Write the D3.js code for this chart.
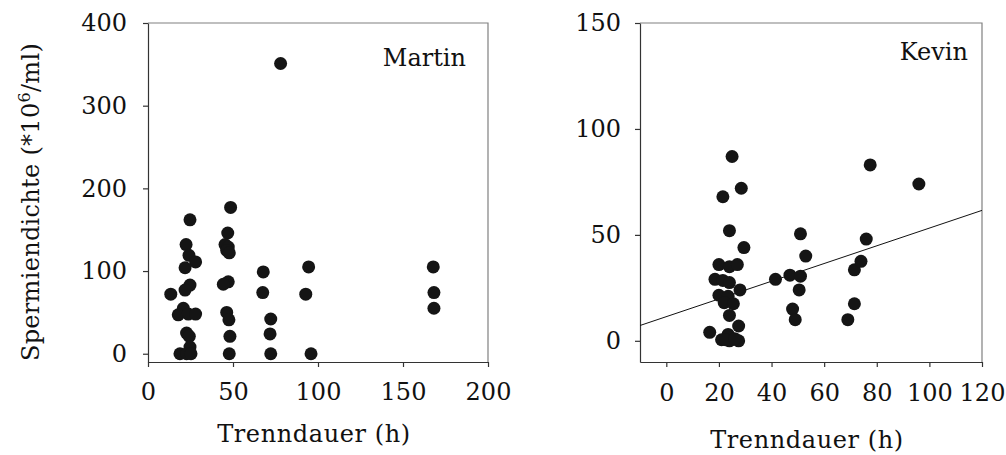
<!DOCTYPE html>
<html>
<head>
<meta charset="utf-8">
<script src="https://cdn.jsdelivr.net/npm/d3@7"></script>
<style>
  html, body { margin: 0; padding: 0; background: #fff; }
  svg { display: block; }
  text { font-family: "DejaVu Serif", serif; fill: #111; }
</style>
</head>
<body>
<svg id="chart" width="1006" height="455"></svg>
<script>
// Martin: separation time (h) and sperm density (*10^6/ml)
const martinHours = [
  78, 48.6, 24.7, 46.9, 22.4, 45.3, 47.2, 46.3, 47.8, 24.1, 28, 21.8,
  24.7, 21.8, 13.4, 47.2, 44.3, 20.8, 17.8, 23.7, 28, 46.3, 47.6,
  22.7, 24.3, 24.7, 48.2, 18.8, 22.7, 25.3, 47.8,
  67.8, 67.5, 72.2, 71.8, 72.2, 94.5, 92.8, 95.9, 167.8, 168.2, 168.2
];
const martinDensity = [
  351, 177, 162, 146, 132, 132, 129, 125, 122, 119, 111, 104,
  83, 77, 72, 87, 84, 55, 47, 48, 48, 50, 41,
  25, 21, 8, 21, 0, 0, 0, 0,
  99, 74, 42, 24, 0, 105, 72, 0, 105, 74, 55
];

// Kevin: separation time (h) and sperm density (*10^6/ml)
const kevinHours = [
  25, 28.5, 21.5, 24, 29.5, 20, 24, 27, 18.5, 21.5, 24, 28, 20, 23.5,
  22, 25.5, 24, 27.5, 16.5, 21, 24, 27.5, 23.5, 22.5, 26,
  41.5, 47, 51, 51, 53, 50.5, 48, 49, 69, 71.5, 71.5, 74, 76, 77.5, 96
];
const kevinDensity = [
  87, 72, 68, 52, 44, 36, 35, 36, 29, 28.5, 27.5, 24, 21.5, 21,
  18, 17.5, 12, 7, 4, 0.5, 0, 0, 3, 0.5, 1,
  29, 31, 30.5, 50.5, 40, 24, 15, 10, 10, 17.5, 33.5, 37.5, 48, 83, 74
];
// least-squares trend for Kevin: [intercept, slope]
const kevinTrend = [11.4, 0.418];

const martinXTicks = [0, 50, 100, 150, 200];
const martinYTicks = [0, 100, 200, 300, 400];
const kevinXTicks = [0, 20, 40, 60, 80, 100, 120];
const kevinYTicks = [0, 50, 100, 150];

const svg = d3.select("#chart");
const FONT = 24;

function panel(cfg) {
  const g = svg.append("g");
  const x = d3.scaleLinear().domain(cfg.xDomain).range(cfg.xRange);
  const y = d3.scaleLinear().domain(cfg.yDomain).range(cfg.yRange);
  const [x0, x1] = cfg.xRange;
  const [yb, yt] = cfg.yRange;

  // frame: top and right borders
  g.append("path")
    .attr("d", `M${x0},${yt}H${x1}V${yb}`)
    .attr("fill", "none").attr("stroke", "#808080").attr("stroke-width", 1.2);

  // y axis
  const yAxis = d3.axisLeft(y).tickValues(cfg.yTicks).tickSize(5).tickPadding(cfg.yPad).tickSizeOuter(0);
  const ga = g.append("g").attr("transform", `translate(${x0},0)`).call(yAxis);
  // x axis
  const xAxis = d3.axisBottom(x).tickValues(cfg.xTicks).tickSize(5).tickPadding(cfg.xPad).tickSizeOuter(0);
  const gx = g.append("g").attr("transform", `translate(0,${yb})`).call(xAxis);
  [ga, gx].forEach(a => {
    a.select(".domain").attr("stroke", "#333").attr("stroke-width", 1.2);
    a.selectAll(".tick line").attr("stroke", "#333").attr("stroke-width", 1.2);
    a.selectAll("text").attr("font-size", FONT).attr("font-family", "DejaVu Serif, serif").attr("fill", "#111");
  });

  // trend line
  if (cfg.trend) {
    const [b0, b1] = cfg.trend;
    const [d0, d1] = cfg.xDomain;
    g.append("line")
      .attr("x1", x(d0)).attr("y1", y(b0 + b1 * d0))
      .attr("x2", x(d1)).attr("y2", y(b0 + b1 * d1))
      .attr("stroke", "#111").attr("stroke-width", 1);
  }

  // points
  g.append("g").selectAll("circle")
    .data(cfg.xs.map((v, i) => [v, cfg.ys[i]]))
    .join("circle")
    .attr("cx", d => x(d[0])).attr("cy", d => y(d[1]))
    .attr("r", 6.5).attr("fill", "#151515");

  // name label
  g.append("text")
    .attr("x", cfg.nameX).attr("y", cfg.nameY)
    .attr("text-anchor", "end").attr("font-size", FONT)
    .text(cfg.name);

  // x title
  g.append("text")
    .attr("x", (x0 + x1) / 2 - 4).attr("y", cfg.xTitleY)
    .attr("text-anchor", "middle").attr("font-size", FONT)
    .attr("letter-spacing", 0.6)
    .text("Trenndauer (h)");
}

panel({
  xs: martinHours, ys: martinDensity,
  xDomain: [0, 200], xRange: [148, 488],
  yDomain: [-10, 400], yRange: [362, 23],
  xTicks: martinXTicks, yTicks: martinYTicks,
  xPad: 16, yPad: 16,
  name: "Martin", nameX: 466, nameY: 66,
  xTitleY: 442
});

panel({
  xs: kevinHours, ys: kevinDensity,
  xDomain: [-10, 120], xRange: [640, 982],
  yDomain: [-10, 150], yRange: [362, 23],
  xTicks: kevinXTicks, yTicks: kevinYTicks,
  xPad: 17, yPad: 14,
  name: "Kevin", nameX: 968, nameY: 60,
  xTitleY: 448,
  trend: kevinTrend
});

// shared y title
const yt = svg.append("text")
  .attr("transform", "translate(39,202) rotate(-90)")
  .attr("text-anchor", "middle").attr("font-size", FONT)
  .attr("letter-spacing", 0.3);
yt.append("tspan").text("Spermiendichte (*10");
yt.append("tspan").attr("font-size", 16).attr("dy", -9).text("6");
yt.append("tspan").attr("dy", 9).text("/ml)");
</script>
</body>
</html>
